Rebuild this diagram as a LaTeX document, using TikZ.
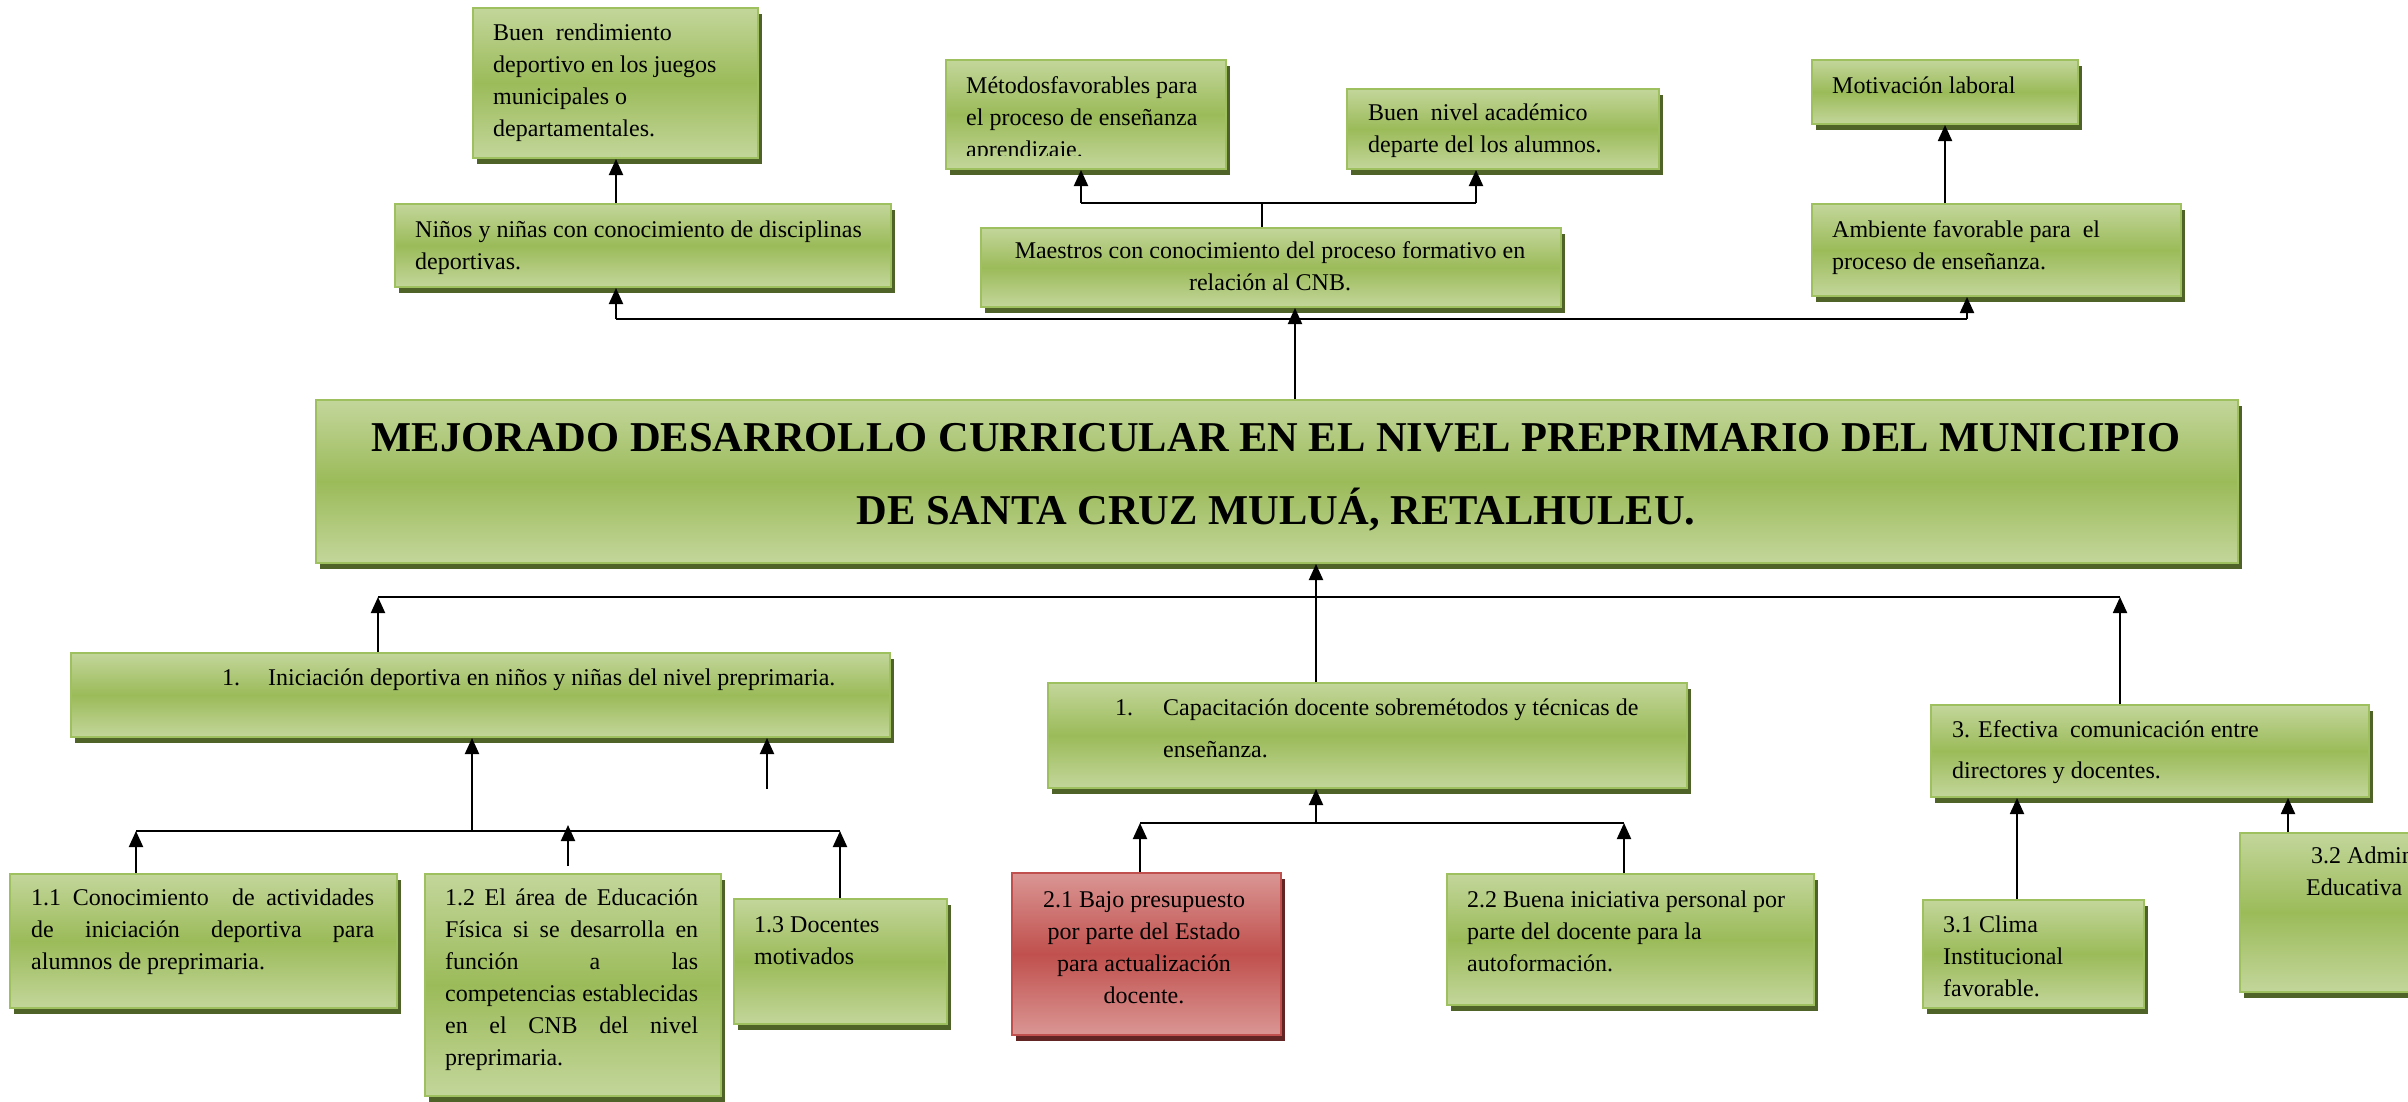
\documentclass[tikz,border=0pt]{standalone}
\usepackage{fontspec}
\setmainfont{Liberation Serif}
\usetikzlibrary{arrows.meta,shadows}
\definecolor{glight}{HTML}{C3D69B}
\definecolor{gmid}{HTML}{9BBB59}
\definecolor{gborder}{HTML}{9FC05E}
\definecolor{gshadow}{HTML}{4F6228}
\definecolor{rlight}{HTML}{DA9694}
\definecolor{rmid}{HTML}{C0504D}
\definecolor{rborder}{HTML}{C0504D}
\definecolor{rshadow}{HTML}{632523}
\newcommand{\fs}{\fontsize{24}{32}\selectfont}
\newcommand{\bx}[6][gbox]{\node[#1,anchor=north west,minimum width={(#4-#2)*1pt},minimum height={(#5-#3)*1pt}] (#6) at (#2,#3) {};}
\newcommand{\tx}[6][]{\node[txt,#1] (#2) at (#3,#4) {\parbox[t]{#5pt}{#6}};}
\tikzset{
  gbox/.style={rectangle,inner sep=0pt,draw=gborder,line width=2pt,
    top color=glight,bottom color=glight,middle color=gmid,
    drop shadow={shadow xshift=4pt,shadow yshift=-6pt,opacity=1,fill=gshadow}},
  rbox/.style={rectangle,inner sep=0pt,draw=rborder,line width=2pt,
    top color=rlight,bottom color=rlight,middle color=rmid,
    drop shadow={shadow xshift=4pt,shadow yshift=-6pt,opacity=1,fill=rshadow}},
  txt/.style={inner sep=0pt,anchor=base west,font=\fs,text=black},
  conn/.style={line width=2pt,draw=black},
  arr/.style={conn,-{Triangle[length=16pt,width=14pt]}}
}
\begin{document}
\begin{tikzpicture}[x=1pt,y=-1pt]
\useasboundingbox (0,0) rectangle (2408,1101);
\clip (0,0) rectangle (2408,1101);
\fill[white] (0,0) rectangle (2408,1101);
% ---------- boxes ----------
\bx{472}{7}{757}{157}{buenrend}
\bx{394}{203}{890}{286}{ninos}
\bx{945}{59}{1225}{168}{metodos}
\bx{1346}{88}{1658}{168}{nivel}
\bx{980}{227}{1560}{306}{maestros}
\bx{1811}{59}{2077}{123}{motiv}
\bx{1811}{203}{2180}{295}{amb}
\bx{315}{399}{2237}{562}{main}
\bx{70}{652}{889}{736}{inic}
\bx{1047}{682}{1686}{787}{capac}
\bx{1930}{704}{2368}{796}{efec}
\bx{9}{873}{396}{1007}{b11}
\bx{424}{873}{720}{1095}{b12}
\bx{733}{898}{946}{1023}{b13}
\bx[rbox]{1011}{872}{1280}{1034}{b21}
\bx{1446}{873}{1813}{1004}{b22}
\bx{1922}{899}{2143}{1007}{b31}
\bx{2239}{832}{2520}{991}{b32}
% ---------- texts ----------
\tx{tbuen}{493}{40}{260}{\raggedright Buen\ \ rendimiento\\deportivo en los juegos\\municipales o\\departamentales.}
\tx{tninos}{415}{237}{470}{\raggedright Niños y niñas con conocimiento de disciplinas\\deportivas.}
\begin{scope}
\clip (945,59) rectangle (1225,155);
\tx{tmet}{966}{93}{255}{\raggedright Métodosfavorables para\\el proceso de enseñanza\\aprendizaje.}
\end{scope}
\tx{tniv}{1368}{120}{285}{\raggedright Buen\ \ nivel académico\\departe del los alumnos.}
\tx[anchor=base]{tmae}{1270}{258}{600}{\centering Maestros con conocimiento del proceso formativo en\\relación al CNB.}
\tx{tmot}{1832}{93}{240}{\raggedright Motivación laboral}
\tx{tamb}{1832}{237}{340}{\raggedright Ambiente favorable para\ \ el\\proceso de enseñanza.}
\node[anchor=base,inner sep=0pt,font=\fontsize{42.5}{73}\selectfont\bfseries] (ttitle) at (1276,451)
  {\parbox[t]{1900pt}{\centering MEJORADO DESARROLLO CURRICULAR EN EL NIVEL PREPRIMARIO DEL MUNICIPIO\\DE SANTA CRUZ MULUÁ, RETALHULEU.}};
\tx{tini}{222}{685}{700}{\raggedright\makebox[46pt][l]{1.}Iniciación deportiva en niños y niñas del nivel preprimaria.}
\tx[font=\fontsize{24}{42}\selectfont]{tcap}{1115}{715}{560}{\raggedright\makebox[48pt][l]{1.}Capacitación docente sobremétodos y técnicas de\\\hspace*{48pt}enseñanza.}
\tx[font=\fontsize{24}{41}\selectfont]{tefe}{1952}{737}{400}{\raggedright 3. Efectiva\ \ comunicación entre\\directores y docentes.}
\tx{t11}{31}{905}{343}{\makebox[343pt][s]{1.1 Conocimiento\ \ de actividades}\\\makebox[343pt][s]{de iniciación deportiva para}\\alumnos de preprimaria.}
\tx{t12}{445}{905}{253}{\makebox[253pt][s]{1.2 El área de Educación}\\\makebox[253pt][s]{Física si se desarrolla en}\\\makebox[253pt][s]{función a las}\\\makebox[253pt][s]{competencias establecidas}\\\makebox[253pt][s]{en el CNB del nivel}\\preprimaria.}
\tx{t13}{754}{932}{180}{\raggedright 1.3 Docentes\\motivados}
\tx[anchor=base]{t21}{1144}{907}{260}{\centering 2.1 Bajo presupuesto\\por parte del Estado\\para actualización\\docente.}
\tx{t22}{1467}{907}{340}{\raggedright 2.2 Buena iniciativa personal por\\parte del docente para la\\autoformación.}
\tx{t31}{1943}{932}{190}{\raggedright 3.1 Clima\\Institucional\\favorable.}
\tx{t32}{2306}{863}{200}{\raggedright\hspace*{5pt}3.2 Admin\\Educativa}
% ---------- connectors: top ----------
\coordinate (cA) at (616,319);
\coordinate (cB) at (1967,319);
\coordinate (cM) at (1295,319);
\draw[conn] (cA) -- (cB);
\draw[arr] (cM |- main.north) -- (cM |- maestros.south);
\draw[arr] (cA) -- (cA |- ninos.south);
\draw[arr] (cB) -- (cB |- amb.south);
\draw[arr] (cA |- ninos.north) -- (cA |- buenrend.south);
\coordinate (cC) at (1262,203);
\coordinate (cD) at (1081,203);
\coordinate (cE) at (1476,203);
\draw[conn] (cC |- maestros.north) -- (cC);
\draw[conn] (cD) -- (cE);
\draw[arr] (cD) -- (cD |- metodos.south);
\draw[arr] (cE) -- (cE |- nivel.south);
\draw[arr] (motiv.south |- amb.north) -- (motiv.south);
% ---------- connectors: main to level 1 ----------
\coordinate (dA) at (378,597);
\coordinate (dB) at (2120,597);
\coordinate (dM) at (1316,597);
\draw[conn] (dA) -- (dB);
\draw[arr] (dA |- inic.north) -- (dA);
\draw[arr] (dB |- efec.north) -- (dB);
\draw[arr] (dM |- capac.north) -- (dM |- main.south);
% ---------- connectors: Iniciacion ----------
\coordinate (eA) at (136,831);
\coordinate (eB) at (840,831);
\coordinate (eM) at (472,831);
\coordinate (eC) at (568,825);
\coordinate (eD) at (568,866);
\coordinate (eS) at (767,789);
\draw[conn] (eA) -- (eB);
\draw[arr] (eM) -- (eM |- inic.south);
\draw[arr] (eS) -- (eS |- inic.south);
\draw[arr] (eA |- b11.north) -- (eA);
\draw[arr] (eD) -- (eC);
\draw[arr] (eB |- b13.north) -- (eB);
% ---------- connectors: Capacitacion ----------
\coordinate (fA) at (1140,823);
\coordinate (fB) at (1624,823);
\coordinate (fM) at (1316,823);
\draw[conn] (fA) -- (fB);
\draw[arr] (fM) -- (fM |- capac.south);
\draw[arr] (fA |- b21.north) -- (fA);
\draw[arr] (fB |- b22.north) -- (fB);
% ---------- connectors: Efectiva ----------
\coordinate (gA) at (2017,899);
\coordinate (gB) at (2288,832);
\draw[arr] (gA |- b31.north) -- (gA |- efec.south);
\draw[arr] (gB |- b32.north) -- (gB |- efec.south);
\end{tikzpicture}
\end{document}
